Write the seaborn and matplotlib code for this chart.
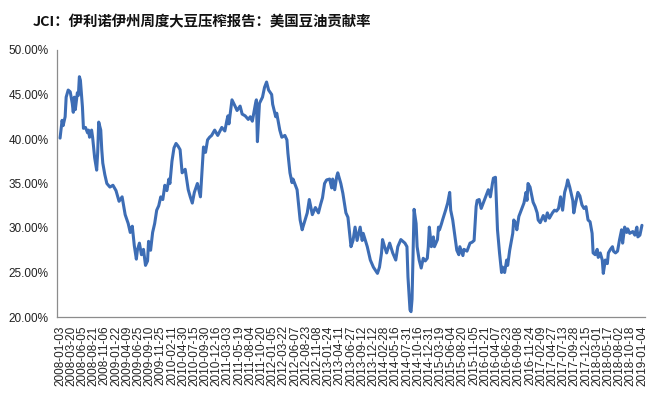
import matplotlib
matplotlib.use("Agg")
import matplotlib.pyplot as plt
import seaborn as sns
import pandas as pd

title = "JCI：伊利诺伊州周度大豆压榨报告：美国豆油贡献率"

tick_labels = [
    "2008-01-03", "2008-03-20", "2008-06-05", "2008-08-21", "2008-11-06",
    "2009-01-22", "2009-04-09", "2009-06-25", "2009-09-10", "2009-11-25",
    "2010-02-11", "2010-04-30", "2010-07-15", "2010-09-30", "2010-12-16",
    "2011-03-03", "2011-05-19", "2011-08-04", "2011-10-20",
    "2012-01-05", "2012-03-22", "2012-06-07", "2012-08-23", "2012-11-08",
    "2013-01-24", "2013-04-11", "2013-06-27", "2013-09-12", "2013-12-12",
    "2014-02-28", "2014-05-16", "2014-07-31", "2014-10-16", "2014-12-31",
    "2015-03-19", "2015-06-04", "2015-08-20", "2015-11-05",
    "2016-01-21", "2016-04-07", "2016-06-23", "2016-09-08", "2016-11-24",
    "2017-02-09", "2017-04-27", "2017-07-13", "2017-09-28", "2017-12-15",
    "2018-03-01", "2018-05-17", "2018-08-02", "2018-10-18", "2019-01-04",
]

# week index (0 = 2008-01-03) and soybean-oil share (%)
week = [
    0, 2, 3, 5, 6, 8, 10, 12, 13, 14, 15, 17, 18, 19, 20, 22, 23, 25, 27, 28,
    29, 31, 32, 34, 36, 37, 38, 40, 41, 42, 44, 46, 49, 52, 55, 58, 61, 64, 67, 69,
    71, 73, 75, 76, 78, 80, 82, 84, 86, 87, 89, 91, 93, 95, 97, 99, 101, 103, 105, 107,
    108, 110, 112, 114, 116, 118, 120, 123, 126, 128, 130, 132, 135, 138, 141, 143, 145, 147, 149, 152,
    155, 159, 162, 164, 165, 166, 169, 172, 174, 177, 179, 182, 185, 187, 189, 192, 193, 194, 196, 199,
    201, 203, 205, 208, 209, 212, 213, 216, 218, 221, 223, 224, 226, 228, 229, 233, 234, 236, 238, 239,
    243, 245, 248, 251, 254, 256, 258, 260, 262, 265, 267, 268, 270, 272, 273, 276, 278, 281, 283, 286,
    288, 290, 292, 295, 297, 298, 302, 305, 308, 312, 314, 316, 317, 319, 321, 324, 327, 330, 332, 335,
    339, 341, 342, 344, 345, 346, 348, 350, 351, 353, 355, 357, 359, 361, 362, 363, 365, 367, 368, 371,
    372, 373, 375, 376, 379, 381, 383, 384, 386, 388, 390, 392, 393, 396, 397, 400, 403, 405, 407, 409,
    410, 412, 414, 417, 419, 421, 423, 425, 426, 428, 429, 430, 432, 434, 435, 437, 439, 440, 442, 445,
    446, 448, 449, 451, 454, 456, 458, 459, 460, 462, 464, 465, 467, 469, 470, 472, 475, 477, 479, 481,
    484, 486, 488, 490, 492, 494, 496, 498, 499, 501, 504, 505, 507, 509, 511, 513, 515, 517, 519, 521,
    523, 524, 526, 528, 529, 531, 533, 534, 536, 538, 539, 541, 543, 544, 546, 548, 550, 552, 553, 555,
    557, 558, 560, 563, 565, 567, 568, 570, 572,
]
share = [
    40.1, 42.1, 41.5, 42.5, 44.7, 45.5, 45.3, 44.0, 43.0, 44.7, 43.3, 45.2, 44.9, 47.0, 46.6, 43.6, 41.2, 41.3, 40.7, 41.0,
    40.2, 41.0, 40.2, 37.9, 36.5, 38.5, 41.9, 41.0, 38.8, 37.3, 36.0, 35.0, 34.6, 34.8, 34.2, 33.0, 33.5, 31.5, 30.5, 29.5,
    30.2, 28.0, 26.5, 27.5, 28.3, 27.0, 27.6, 25.8, 26.3, 28.5, 27.5, 29.5, 30.5, 32.0, 32.5, 33.5, 33.2, 34.8, 34.2, 35.5,
    35.0, 37.5, 39.0, 39.5, 39.2, 38.8, 36.2, 36.6, 34.3, 33.5, 32.8, 34.0, 35.0, 33.5, 39.1, 38.5, 39.9, 40.2, 40.4, 41.0,
    40.4, 41.3, 40.9, 42.1, 42.6, 41.7, 44.4, 43.7, 43.2, 43.7, 42.8, 42.6, 42.2, 42.5, 42.0, 43.9, 44.4, 39.7, 44.0, 44.7,
    45.8, 46.4, 45.5, 45.0, 43.9, 42.5, 42.9, 41.0, 40.2, 40.4, 39.9, 38.4, 36.2, 35.1, 35.5, 34.3, 33.2, 30.9, 29.8, 30.2,
    31.7, 33.2, 31.5, 32.3, 31.7, 32.6, 33.4, 35.0, 35.4, 35.5, 34.5, 35.5, 34.3, 35.8, 36.2, 35.0, 33.9, 31.7, 31.2, 27.9,
    28.6, 30.1, 28.6, 30.1, 28.6, 29.4, 27.9, 26.4, 25.6, 24.9, 25.6, 27.2, 28.7, 27.9, 27.2, 28.3, 27.2, 26.4, 27.9, 28.7,
    28.3, 27.9, 24.5, 20.8, 20.6, 22.0, 32.1, 30.5, 27.9, 26.4, 25.5, 26.6, 26.3, 26.6, 27.9, 30.1, 27.9, 29.0, 27.9, 28.7,
    30.1, 29.8, 30.5, 30.9, 32.0, 32.8, 34.0, 32.0, 30.9, 29.2, 27.5, 27.0, 27.9, 26.9, 27.6, 27.4, 28.3, 28.4, 28.6, 32.4,
    33.1, 33.2, 32.2, 33.1, 33.7, 34.3, 33.5, 35.0, 35.6, 35.7, 32.6, 29.8, 27.2, 25.0, 25.6, 25.0, 26.4, 25.8, 27.5, 29.4,
    30.9, 30.5, 29.8, 31.3, 32.2, 32.8, 34.0, 33.1, 35.0, 34.6, 33.5, 32.9, 32.4, 31.7, 30.9, 30.6, 31.4, 30.8, 31.7, 31.1,
    31.7, 32.0, 31.9, 32.2, 33.5, 32.0, 34.0, 34.8, 35.4, 34.6, 33.1, 31.7, 32.9, 34.0, 33.6, 32.6, 32.2, 32.4, 30.9, 30.7,
    29.4, 27.2, 27.0, 27.6, 26.7, 27.2, 26.4, 24.9, 26.4, 26.0, 27.2, 27.6, 27.9, 27.4, 27.2, 27.4, 28.7, 29.8, 28.3, 30.1,
    29.5, 29.9, 29.4, 29.6, 29.2, 30.1, 29.0, 29.2, 30.3,
]

y_ticks = [20, 25, 30, 35, 40, 45, 50]

sns.set_style("white")
plt.rcParams["font.family"] = ["Liberation Sans", "Noto Sans CJK SC", "DejaVu Sans"]

fig = plt.figure(figsize=(6.69, 3.99), dpi=100)
ax = fig.add_axes([57 / 669, 82 / 399, 588 / 669, 267 / 399])

df = pd.DataFrame({"week": week, "share": share})
sns.lineplot(data=df, x="week", y="share", ax=ax, color="#3D6DB5",
             linewidth=2.2, estimator=None, sort=False)

ax.set_xlim(-3, 575)
ax.set_ylim(20, 50)
ax.set_yticks(y_ticks)
ax.set_yticklabels([f"{v:.2f}%" for v in y_ticks], fontsize=8.5, color="#222222")
ax.set_xticks(range(0, 11 * len(tick_labels), 11))
ax.set_xticklabels(tick_labels, rotation=90, fontsize=8.5, color="#222222")
ax.tick_params(axis="both", length=0)
ax.tick_params(axis="y", pad=6)
ax.tick_params(axis="x", pad=6)
ax.set_xlabel("")
ax.set_ylabel("")
for s in ["top", "right"]:
    ax.spines[s].set_visible(False)
for s in ["left", "bottom"]:
    ax.spines[s].set_color("#8C8C8C")
    ax.spines[s].set_linewidth(0.9)
ax.grid(False)

fig.text(33 / 669, 1 - 22 / 399, title, ha="left", va="center",
         fontsize=10.4, fontweight="bold", color="#111111",
         family=["Noto Sans CJK SC", "DejaVu Sans"])

fig.savefig("out.png", dpi=100)
